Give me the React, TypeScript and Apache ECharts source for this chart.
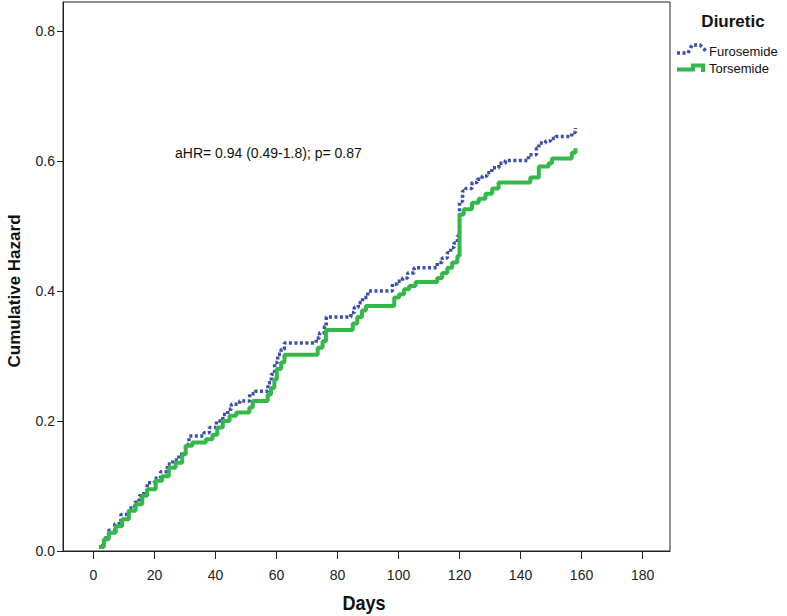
import React, { useEffect, useRef } from "react";
import * as echarts from "echarts";

// Step events: day of event and cumulative hazard after it
const furosemideDays = [2.5, 3.5, 5, 7, 9, 11.5, 13.5, 15, 16.5, 17.6, 20, 22, 24.2, 26, 28, 30.2, 31.3, 36.2, 38, 40.3, 42.4, 44, 45.2, 47.9, 51.2, 53, 57.2, 58.3, 59.4, 60.4, 61.5, 62.6, 73, 74.1, 75.7, 76.3, 84.4, 85.5, 86.8, 88.2, 89.9, 98, 99.6, 101.3, 103, 105.1, 112.7, 114.3, 116, 117.1, 118.2, 119.3, 120, 121, 122, 124.1, 125.8, 127.4, 129, 130.6, 132.9, 135, 142.6, 145.2, 146, 148.2, 149.8, 151.5, 156.8, 158];
const furosemideHazard = [0.008, 0.02, 0.032, 0.042, 0.056, 0.066, 0.075, 0.085, 0.092, 0.105, 0.112, 0.122, 0.134, 0.14, 0.149, 0.164, 0.177, 0.182, 0.19, 0.2, 0.21, 0.218, 0.226, 0.231, 0.242, 0.246, 0.259, 0.272, 0.29, 0.303, 0.31, 0.32, 0.328, 0.336, 0.346, 0.36, 0.367, 0.375, 0.382, 0.39, 0.4, 0.411, 0.415, 0.42, 0.428, 0.436, 0.444, 0.451, 0.459, 0.467, 0.474, 0.485, 0.538, 0.554, 0.558, 0.567, 0.572, 0.577, 0.582, 0.59, 0.597, 0.601, 0.61, 0.62, 0.628, 0.631, 0.635, 0.638, 0.644, 0.651];

const torsemideDays = [1.8, 3.4, 5, 7.3, 9.4, 11.6, 13.8, 16, 17.6, 20.4, 22.5, 24.7, 26.9, 29.1, 30.2, 32.4, 36.8, 39, 40.6, 42.4, 44.6, 46.8, 51.1, 52.2, 57.1, 58.2, 59.3, 60.1, 61.5, 62.6, 73.5, 75.1, 76.2, 85, 86.5, 88, 89.3, 98.6, 100.2, 101.8, 103.5, 105.6, 112.7, 114.3, 116, 117.6, 119.3, 120, 121.4, 124.1, 126.3, 128.5, 130.7, 132.8, 143.2, 146, 149.2, 150.3, 156.8, 158];
const torsemideHazard = [0.006, 0.018, 0.028, 0.038, 0.049, 0.062, 0.072, 0.085, 0.095, 0.108, 0.115, 0.128, 0.136, 0.149, 0.162, 0.167, 0.172, 0.179, 0.19, 0.2, 0.208, 0.213, 0.221, 0.231, 0.241, 0.251, 0.264, 0.28, 0.29, 0.302, 0.313, 0.323, 0.34, 0.35, 0.36, 0.37, 0.377, 0.39, 0.395, 0.403, 0.408, 0.414, 0.42, 0.428, 0.436, 0.444, 0.454, 0.518, 0.526, 0.536, 0.542, 0.55, 0.558, 0.567, 0.575, 0.592, 0.597, 0.604, 0.613, 0.62];

const xTicks = [0, 20, 40, 60, 80, 100, 120, 140, 160, 180];
const yTicks = [0, 0.2, 0.4, 0.6, 0.8];

const seriesNames = ["Furosemide", "Torsemide"];
const legendTitle = "Diuretic";
const annotation = "aHR= 0.94 (0.49-1.8); p= 0.87";
const xTitle = "Days";
const yTitle = "Cumulative Hazard";

function stepPoints(days: number[], hazard: number[]) {
  const pts: number[][] = [];
  for (let i = 0; i < days.length; i++) {
    if (i > 0) pts.push([days[i], hazard[i - 1]]);
    pts.push([days[i], hazard[i]]);
  }
  return pts;
}

const FONT = "'Liberation Sans', Arial, sans-serif";
const BLUE = "#3b4fad";
const GREEN = "#35b84a";

export default function App() {
  const ref = useRef<HTMLDivElement>(null);
  useEffect(() => {
    if (!ref.current) return;
    const chart = echarts.init(ref.current, undefined, { renderer: "svg" });
    chart.setOption({
      animation: false,
      backgroundColor: "#fff",
      textStyle: { fontFamily: FONT },
      grid: {
        left: 63,
        right: 117,
        top: 2,
        bottom: 65,
        show: true,
        borderColor: "#222",
        borderWidth: 1,
        containLabel: false,
      },
      xAxis: {
        type: "value",
        min: -10,
        max: 189,
        axisLine: { show: true, onZero: false, lineStyle: { color: "#222", width: 1 } },
        axisTick: { show: true, length: 8, customValues: xTicks, lineStyle: { color: "#222" } },
        axisLabel: {
          customValues: xTicks,
          margin: 17,
          fontSize: 14,
          color: "#222",
          fontFamily: FONT,
        },
        splitLine: { show: false },
      },
      yAxis: {
        type: "value",
        min: 0,
        max: 0.845,
        axisLine: { show: true, onZero: false, lineStyle: { color: "#222", width: 1 } },
        axisTick: { show: true, length: 6, customValues: yTicks, lineStyle: { color: "#222" } },
        axisLabel: {
          customValues: yTicks,
          margin: 8,
          fontSize: 14,
          color: "#222",
          fontFamily: FONT,
          formatter: (v: number) => v.toFixed(1),
        },
        splitLine: { show: false },
      },
      series: [
        {
          name: seriesNames[0],
          type: "line",
          showSymbol: false,
          data: stepPoints(furosemideDays, furosemideHazard),
          lineStyle: { color: BLUE, width: 3.5, type: [3, 2.5], cap: "butt" },
          z: 2,
        },
        {
          name: seriesNames[1],
          type: "line",
          showSymbol: false,
          data: stepPoints(torsemideDays, torsemideHazard),
          lineStyle: { color: GREEN, width: 4 },
          z: 3,
        },
      ],
      graphic: [
        {
          type: "text",
          left: 175,
          top: 146,
          style: { text: annotation, fontSize: 14, fill: "#111", fontFamily: FONT },
        },
        {
          type: "text",
          x: 14,
          y: 291,
          rotation: Math.PI / 2,
          style: {
            text: yTitle,
            fontSize: 17,
            fontWeight: "bold",
            fill: "#111",
            fontFamily: FONT,
            align: "center",
            verticalAlign: "middle",
          },
        },
        {
          type: "text",
          x: 364,
          y: 602,
          scaleX: 0.86,
          style: {
            text: xTitle,
            fontSize: 21,
            fontWeight: "bold",
            fill: "#111",
            fontFamily: FONT,
            align: "center",
            verticalAlign: "middle",
          },
        },
        {
          type: "text",
          x: 733,
          y: 21,
          style: {
            text: legendTitle,
            fontSize: 17,
            fontWeight: "bold",
            fill: "#111",
            fontFamily: FONT,
            align: "center",
            verticalAlign: "middle",
          },
        },
        {
          type: "polyline",
          shape: { points: [[677, 53], [688, 53], [692, 45], [700, 45], [706, 51]] },
          style: { stroke: BLUE, lineWidth: 3.5, lineDash: [3, 2.5], fill: "none" },
        },
        {
          type: "text",
          x: 709,
          y: 51.5,
          style: { text: seriesNames[0], fontSize: 13, fill: "#111", fontFamily: FONT, verticalAlign: "middle" },
        },
        {
          type: "polyline",
          shape: { points: [[677, 69.5], [693, 69.5], [693, 65.5], [703, 65.5], [703, 72]] },
          style: { stroke: GREEN, lineWidth: 4, fill: "none" },
        },
        {
          type: "text",
          x: 709,
          y: 68,
          style: { text: seriesNames[1], fontSize: 13, fill: "#111", fontFamily: FONT, verticalAlign: "middle" },
        },
      ],
    });
    return () => chart.dispose();
  }, []);
  return (
    <div
      ref={ref}
      style={{ position: "absolute", left: 0, top: 0, width: 787, height: 616 }}
    />
  );
}
